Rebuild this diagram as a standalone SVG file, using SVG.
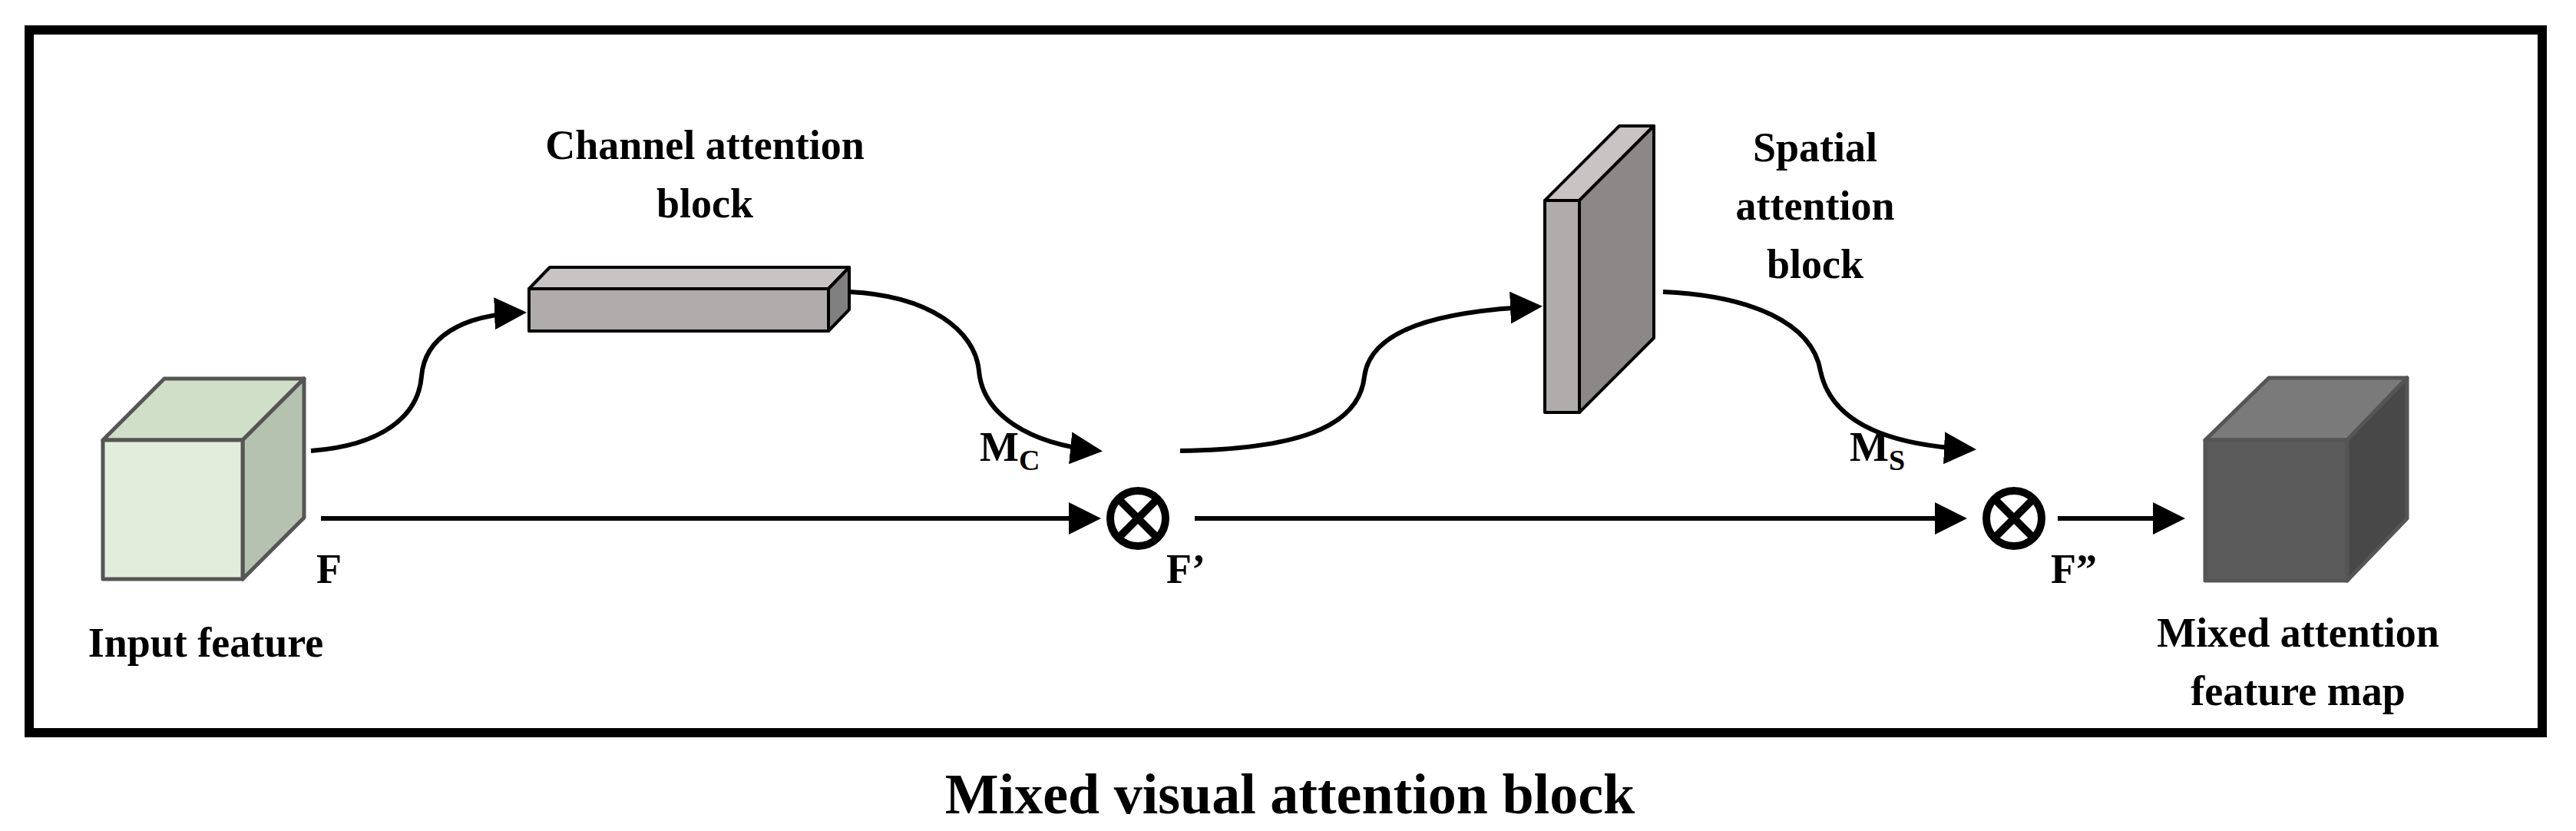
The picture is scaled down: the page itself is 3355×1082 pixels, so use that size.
<svg xmlns="http://www.w3.org/2000/svg" width="3355" height="1082" viewBox="0 0 3355 1082">
<style>
text{font-family:"Liberation Serif","Times New Roman",serif;font-weight:bold;fill:#000}
.lbl{font-size:54px}
.c{stroke:#000;stroke-width:6;fill:none}
.cube{stroke:#555;stroke-width:5;stroke-linejoin:round}
.blk{stroke:#000;stroke-width:4;stroke-linejoin:round}
</style>
<defs>
<marker id="ah" markerWidth="8" markerHeight="8" refX="6" refY="4" orient="auto" markerUnits="strokeWidth"><path d="M0,0.5 L7,4 L0,7.5 Z" fill="#000"/></marker>
</defs>
<rect x="38" y="39" width="3273" height="915" fill="#fff" stroke="#000" stroke-width="12"/>
<g id="input">
<polygon class="cube" points="134,573 214,493 396,493 316,573" fill="#d0dfc7"/>
<polygon class="cube" points="316,573 396,493 396,674 316,754" fill="#b5c2b0"/>
<rect class="cube" x="134" y="573" width="182" height="181" fill="#e2eedb"/>
<text class="lbl" x="412" y="759">F</text>
<text class="lbl" x="268" y="855" text-anchor="middle">Input feature</text>
</g>
<g id="channel">
<polygon class="blk" points="689,376 716,348 1106,348 1079,376" fill="#c8c4c4"/>
<polygon class="blk" points="1079,376 1106,348 1106,403 1079,431" fill="#808080"/>
<rect class="blk" x="689" y="376" width="390" height="55" fill="#b0acac"/>
<text class="lbl" x="918" y="207" text-anchor="middle">Channel attention</text>
<text class="lbl" x="918" y="283" text-anchor="middle">block</text>
</g>
<g id="spatial">
<polygon class="blk" points="2012,261 2109,164 2154,164 2057,261" fill="#c8c4c4"/>
<polygon class="blk" points="2057,261 2154,164 2154,440 2057,537" fill="#8c8888"/>
<rect class="blk" x="2012" y="261" width="45" height="276" fill="#b0acac"/>
<text class="lbl" x="2364" y="210" text-anchor="middle">Spatial</text>
<text class="lbl" x="2364" y="286" text-anchor="middle">attention</text>
<text class="lbl" x="2364" y="362" text-anchor="middle">block</text>
</g>
<g id="output">
<polygon class="cube" points="2872,573 2955,492 3135,492 3057,573" fill="#7a7a7a" stroke="#666"/>
<polygon class="cube" points="3057,573 3135,492 3135,675 3057,756" fill="#484848" stroke="#666"/>
<rect class="cube" x="2872" y="573" width="185" height="183" fill="#5a5a5a" stroke="#666"/>
<text class="lbl" x="2993" y="842" text-anchor="middle">Mixed attention</text>
<text class="lbl" x="2993" y="918" text-anchor="middle">feature map</text>
</g>
<g id="mult1">
<circle cx="1482" cy="675" r="36" fill="#fff" stroke="#000" stroke-width="10"/>
<path d="M1457,650 L1507,700 M1507,650 L1457,700" stroke="#000" stroke-width="10"/>
<text class="lbl" x="1519" y="759">F’</text>
</g>
<g id="mult2">
<circle cx="2623" cy="675" r="36" fill="#fff" stroke="#000" stroke-width="10"/>
<path d="M2598,650 L2648,700 M2648,650 L2598,700" stroke="#000" stroke-width="10"/>
<text class="lbl" x="2671" y="759">F”</text>
</g>
<g id="connectors">
<path class="c" marker-end="url(#ah)" d="M405,587 C500,580 545,540 549,490 C553,440 600,410 680,407"/>
<path class="c" marker-end="url(#ah)" d="M1106,380 C1210,385 1270,430 1275,483 C1280,540 1340,578 1430,587"/>
<path class="c" marker-end="url(#ah)" d="M418,675 L1428,675"/>
<path class="c" marker-end="url(#ah)" d="M1537,587 C1680,585 1770,560 1777,490 C1785,430 1870,405 2003,399"/>
<path class="c" marker-end="url(#ah)" d="M2166,380 C2280,385 2360,420 2371,483 C2385,550 2460,580 2568,585"/>
<path class="c" marker-end="url(#ah)" d="M1556,675 L2556,675"/>
<path class="c" marker-end="url(#ah)" d="M2680,675 L2840,675"/>
</g>
<text class="lbl" x="1276" y="600">M<tspan font-size="38" dy="12">C</tspan></text>
<text class="lbl" x="2409" y="600">M<tspan font-size="38" dy="12">S</tspan></text>
<text x="1680" y="1059" font-size="74" text-anchor="middle">Mixed visual attention block</text>
</svg>
